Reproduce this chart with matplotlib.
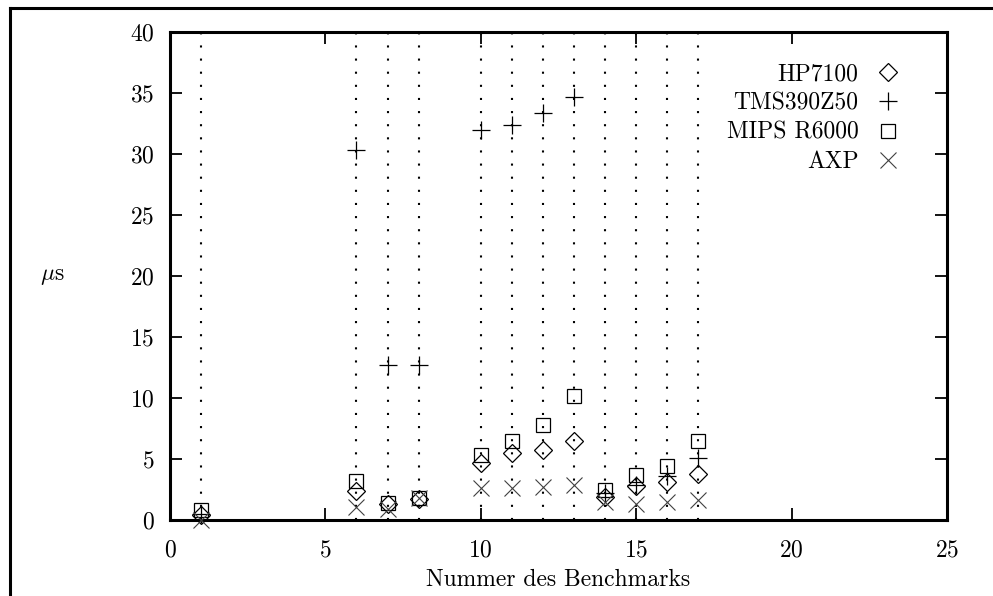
import matplotlib
matplotlib.use('Agg')
import matplotlib.pyplot as plt
from matplotlib.lines import Line2D

# benchmark numbers and timings in microseconds
bench = [1, 6, 7, 8, 10, 11, 12, 13, 14, 15, 16, 17]
hp7100 = [0.4, 2.4, 1.3, 1.7, 4.7, 5.5, 5.7, 6.5, 1.9, 2.8, 3.1, 3.8]
tms390z50 = [0.5, 30.3, 12.7, 12.7, 32.0, 32.4, 33.4, 34.7, 2.2, 2.9, 3.6, 5.1]
mips_r6000 = [0.8, 3.2, 1.4, 1.8, 5.3, 6.5, 7.8, 10.2, 2.5, 3.7, 4.4, 6.5]
axp = [0.0, 1.1, 0.9, 1.8, 2.6, 2.6, 2.7, 2.9, 1.5, 1.3, 1.5, 1.6]

x_ticks = [0, 5, 10, 15, 20, 25]
y_ticks = [0, 5, 10, 15, 20, 25, 30, 35, 40]

plt.rcParams['font.family'] = ['cmr10', 'DejaVu Serif']
plt.rcParams['mathtext.fontset'] = 'cm'
plt.rcParams['axes.formatter.use_mathtext'] = True

FS = 17
W, H = 993, 596
fig = plt.figure(figsize=(W / 100, H / 100), dpi=100)
ax = fig.add_axes([170 / W, 1 - 520 / H, (947 - 170) / W, (520 - 32) / H])

# dotted guide lines at each benchmark
ax.vlines(bench, 0, 40, colors='black', linestyles=(0, (1, 5.3)), linewidth=1.5, zorder=1)

ax.plot(bench, hp7100, linestyle='none', marker='D', markersize=9.5, mfc='none',
        mec='black', mew=0.9, label='HP7100', clip_on=False, zorder=3)
ax.plot(bench, tms390z50, linestyle='none', marker='+', markersize=13, mec='black',
        mew=0.9, label='TMS390Z50', clip_on=False, zorder=3)
ax.plot(bench, mips_r6000, linestyle='none', marker='s', markersize=10.5, mfc='none',
        mec='black', mew=0.9, label='MIPS R6000', clip_on=False, zorder=3)
ax.plot(bench, axp, linestyle='none', marker='x', markersize=11, mec='#404040',
        mew=0.8, label='AXP', clip_on=False, zorder=3)

ax.set_xlim(0, 25)
ax.set_ylim(0, 40)
ax.set_xticks(x_ticks)
ax.set_yticks(y_ticks)
ax.tick_params(direction='in', length=8.5, width=1.3, labelsize=FS,
               top=True, right=True)
ax.tick_params(axis='x', pad=14)
ax.tick_params(axis='y', pad=11)
for s in ax.spines.values():
    s.set_linewidth(2.2)

ax.set_xlabel('Nummer des Benchmarks', fontsize=FS)
ax.xaxis.set_label_coords(0.5, -0.1)
ax.set_ylabel(r'$\mu$s', fontsize=FS, rotation=0, va='center', ha='center')
ax.yaxis.set_label_coords(-0.152, 0.5)

ax.legend(loc='upper right', bbox_to_anchor=(0.956, 0.955), frameon=False,
          markerfirst=False, fontsize=FS, handlelength=1.3, handletextpad=0.6,
          labelspacing=0.3, borderaxespad=0)

# outer page frame
fig.add_artist(Line2D([10 / W, 10 / W], [0, 1 - 8 / H], color='black', linewidth=2.2,
                      transform=fig.transFigure))
fig.add_artist(Line2D([10 / W, 1], [1 - 8 / H, 1 - 8 / H], color='black', linewidth=2.2,
                      transform=fig.transFigure))

fig.savefig('out.png', dpi=100)
